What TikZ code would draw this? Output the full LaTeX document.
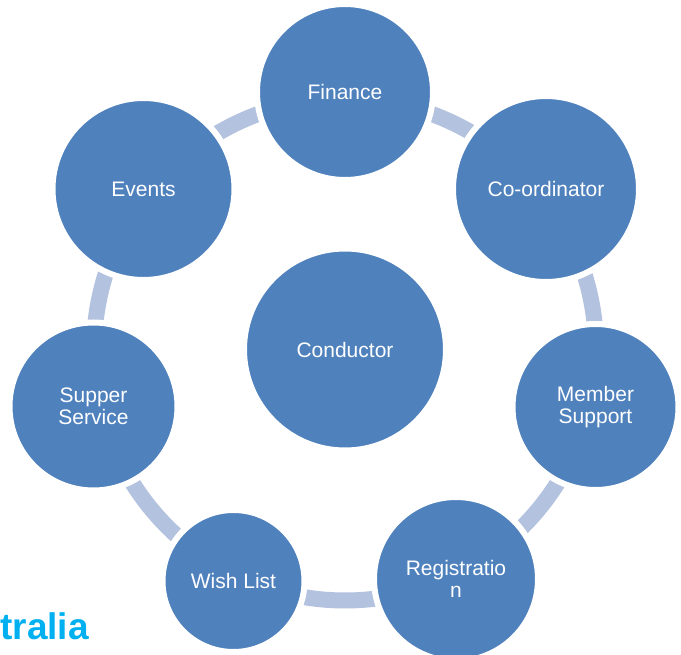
\documentclass[tikz,border=0pt]{standalone}
\usepackage{fontspec}
\setmainfont{Liberation Sans}
\usepackage{tikz}
\definecolor{rolefill}{RGB}{79, 129, 189}
\definecolor{ringband}{RGB}{179, 194, 222}
\definecolor{brandcyan}{RGB}{0, 176, 240}
\usetikzlibrary{positioning,backgrounds}
\def\ringr{251}
\def\gap{6pt}
\tikzset{
	role/.style={circle,fill=rolefill,draw=white,line width=\gap,text=white,align=center,inner sep=0pt,font=\fontsize{21}{21.5}\selectfont},
	band/.style={color=ringband,line width=16pt}
}
\newcommand{\rolenode}[5]{\node[role,minimum size=2*#4pt+\gap] (#3) at (#1,#2) {#5};}

\begin{document}
\begin{tikzpicture}[x=1pt,y=1pt]
				\useasboundingbox (0,0) rectangle (681,-655);
				\node[anchor=base east,inner sep=0pt,text=brandcyan,font=\fontsize{37}{37}\selectfont\bfseries] (brand) at (89,-639) {tralia};

				\rolenode{345}{-349.5}{cond}{98}{Conductor}
				\rolenode{345}{-92}{fin}{85}{Finance}
				\rolenode{546}{-189}{coord}{90}{Co-ordinator}
				\rolenode{595.5}{-407}{member}{80}{Member\\Support}
				\rolenode{456}{-579}{reg}{79}{Registratio\\n}
				\rolenode{233.5}{-581}{wish}{68}{Wish List}
				\rolenode{93.5}{-406.5}{supper}{81}{Supper\\Service}
				\rolenode{143.5}{-189}{events}{88}{Events}

				% ring behind the circles
				\begin{scope}[on background layer]
				\draw[band] (cond.center) ++(90:\ringr) arc[start angle=90, end angle=38.57, radius=\ringr];
				\draw[band] (cond.center) ++(38.57:\ringr) arc[start angle=38.57, end angle=-12.86, radius=\ringr];
				\draw[band] (cond.center) ++(-12.86:\ringr) arc[start angle=-12.86, end angle=-64.29, radius=\ringr];
				\draw[band] (cond.center) ++(-64.29:\ringr) arc[start angle=-64.29, end angle=-115.71, radius=\ringr];
				\draw[band] (cond.center) ++(-115.71:\ringr) arc[start angle=-115.71, end angle=-167.14, radius=\ringr];
				\draw[band] (cond.center) ++(-167.14:\ringr) arc[start angle=-167.14, end angle=-218.57, radius=\ringr];
				\draw[band] (cond.center) ++(141.43:\ringr) arc[start angle=141.43, end angle=90, radius=\ringr];
				\end{scope}
			\end{tikzpicture}
\end{document}
